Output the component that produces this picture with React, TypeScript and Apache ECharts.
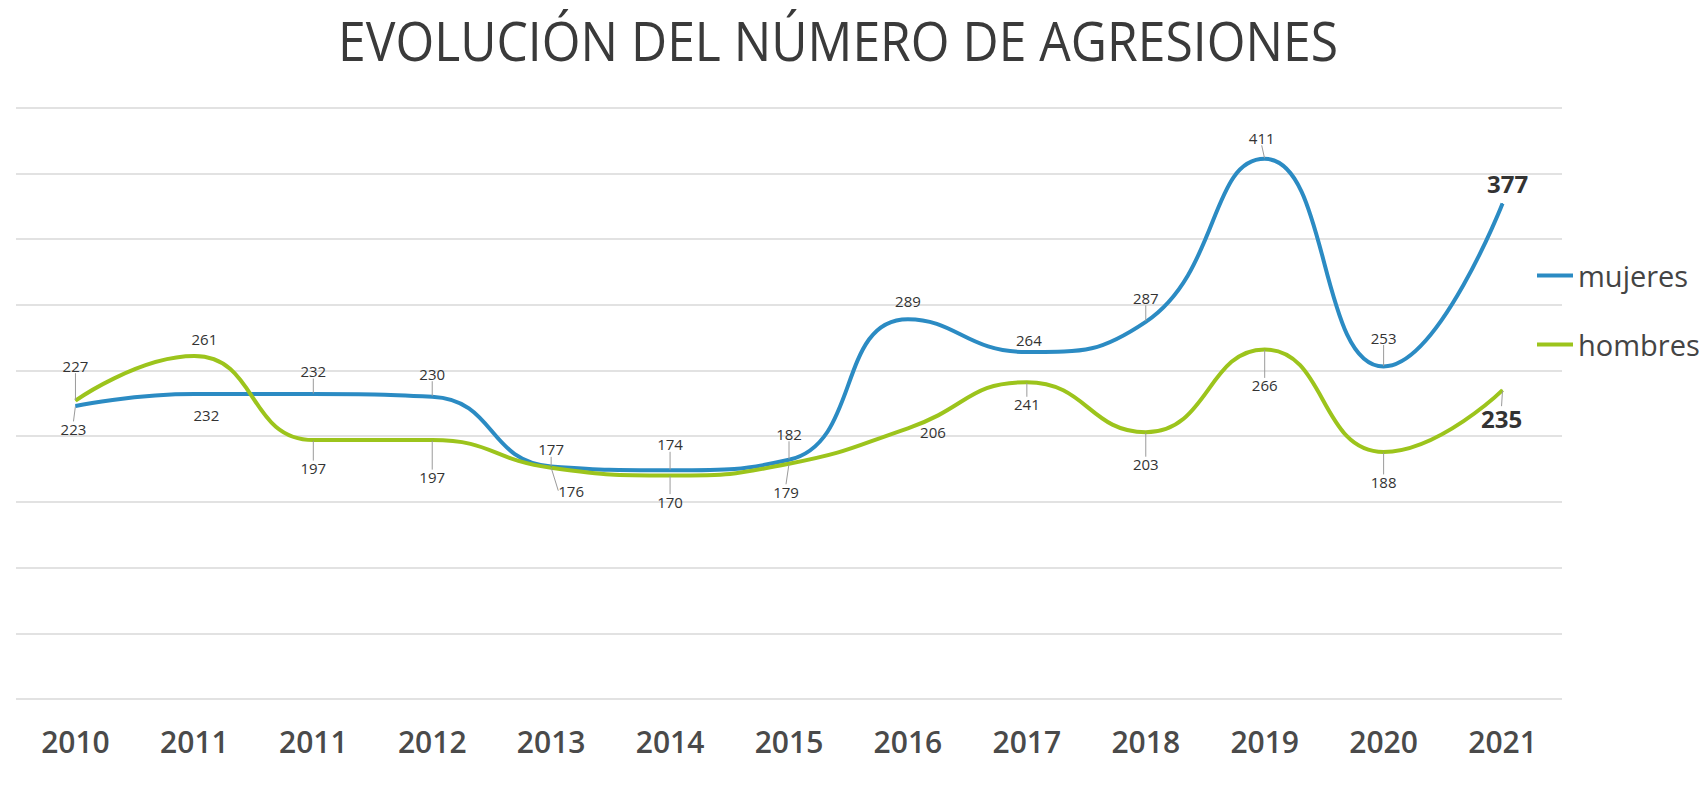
import React, { useEffect, useRef } from "react";
import * as echarts from "echarts";

const TITLE = "EVOLUCIÓN DEL NÚMERO DE AGRESIONES";
const categories = ["2010", "2011", "2011", "2012", "2013", "2014", "2015", "2016", "2017", "2018", "2019", "2020", "2021"];
const mujeres = [223, 232, 232, 230, 177, 174, 182, 289, 264, 287, 411, 253, 377];
const hombres = [227, 261, 197, 197, 176, 170, 179, 206, 241, 203, 266, 188, 235];
const yTicks = { min: 0, max: 450, interval: 50 };

// label placement (style only): [dx, dy, leader]
const labelOffM: [number, number, boolean][] = [
  [-2, 23, true], [12, 21, false], [0, -23, true], [0, -23, true], [0, -17, true], [0, -26, true],
  [0, -26, true], [0, -18, false], [2, -12, false], [0, -24, true], [-3, -21, true], [0, -29, true], [5, -20, false],
];
const labelOffH: [number, number, boolean][] = [
  [0, -35, true], [10, -17, false], [0, 28, true], [0, 37, true], [20, 23, true], [0, 26, true],
  [-3, 28, true], [25, 4, false], [0, 22, true], [0, 32, true], [0, 36, true], [0, 30, true], [-1, 28, true],
];

const BLUE = "#2b8bc3";
const GREEN = "#9cc41c";
const FONT = "Open Sans";

function buildData(values: number[], offs: [number, number, boolean][]) {
  return values.map((v, i) => {
    const last = i === values.length - 1;
    return {
      value: v,
      label: last
        ? { fontSize: 24, fontWeight: "bold" as const, color: "#333" }
        : {},
      labelLine: { show: offs[i][2] },
    };
  });
}

export default function App() {
  const ref = useRef<HTMLDivElement>(null);
  useEffect(() => {
    if (!ref.current) return;
    const chart = echarts.init(ref.current, undefined, { renderer: "svg" });
    const offsets = [labelOffM, labelOffH];
    const mkSeries = (name: string, color: string, values: number[], offs: [number, number, boolean][]) => ({
      name,
      type: "line",
      data: buildData(values, offs),
      smooth: 0.5,
      symbol: "circle",
      symbolSize: 1,
      showSymbol: true,
      itemStyle: { color },
      lineStyle: { color, width: 4 },
      emphasis: { disabled: true },
      label: {
        show: true,
        position: "inside",
        fontFamily: FONT,
        fontSize: 15,
        color: "#333",
      },
      labelLine: {
        show: true,
        smooth: false,
        length2: 0,
        lineStyle: { color: "#9a9a9a", width: 1 },
      },
      labelLayout: (p: any) => {
        const o = offsets[p.seriesIndex][p.dataIndex];
        return { dx: o[0], dy: o[1] };
      },
    });
    chart.setOption({
      animation: false,
      backgroundColor: "#ffffff",
      textStyle: { fontFamily: FONT },
      grid: { left: 16, right: 144, top: 107.6, bottom: 89 },
      legend: {
        orient: "vertical",
        left: 1537,
        top: 261,
        padding: 0,
        itemGap: 40,
        itemWidth: 36,
        itemHeight: 4,
        icon: "rect",
        selectedMode: false,
        textStyle: { fontSize: 29, lineHeight: 29, color: "#444", fontFamily: FONT },
        data: ["mujeres", "hombres"],
      },
      xAxis: {
        type: "category",
        data: categories,
        boundaryGap: true,
        axisLine: { show: false },
        axisTick: { show: false },
        axisLabel: {
          interval: 0,
          margin: 27,
          fontSize: 30,
          fontWeight: 600,
          color: "#4a4a4a",
          fontFamily: FONT,
        },
        splitLine: { show: false },
      },
      yAxis: {
        type: "value",
        min: yTicks.min,
        max: yTicks.max,
        interval: yTicks.interval,
        axisLine: { show: false },
        axisTick: { show: false },
        axisLabel: { show: false },
        splitLine: { lineStyle: { color: "#e2e2e2", width: 2 } },
      },
      graphic: [
        {
          type: "text",
          x: 838,
          y: 40,
          scaleX: 0.906,
          style: {
            text: TITLE,
            fontFamily: FONT,
            fontSize: 55,
            fill: "#3a3a3a",
            textAlign: "center",
            textVerticalAlign: "middle",
          },
        },
      ],
      series: [
        mkSeries("mujeres", BLUE, mujeres, labelOffM),
        mkSeries("hombres", GREEN, hombres, labelOffH),
      ],
    });
    return () => chart.dispose();
  }, []);
  return (
    <div
      ref={ref}
      style={{ position: "absolute", left: 0, top: 0, width: 1706, height: 788 }}
    />
  );
}
